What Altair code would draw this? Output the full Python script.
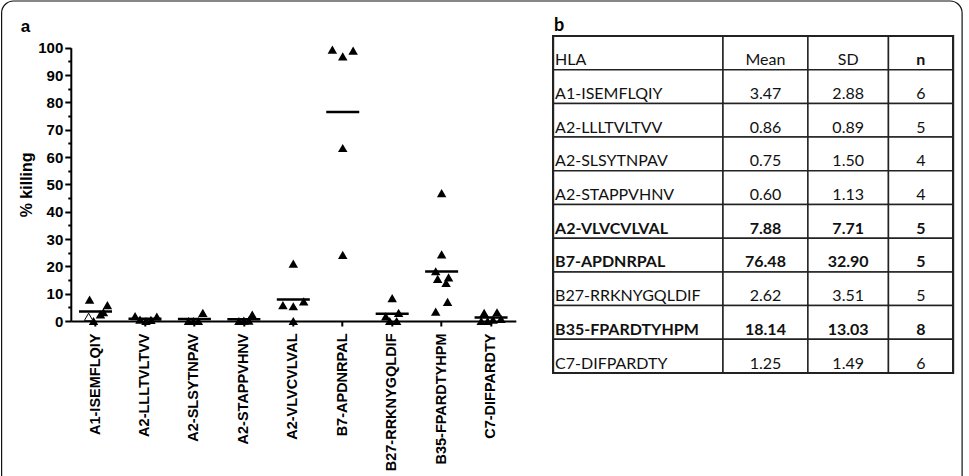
import altair as alt
import pandas as pd

# ---------------- data ----------------
categories = ["A1-ISEMFLQIY", "A2-LLLTVLTVV", "A2-SLSYTNPAV", "A2-STAPPVHNV",
              "A2-VLVCVLVAL", "B7-APDNRPAL", "B27-RRKNYGQLDIF", "B35-FPARDTYHPM",
              "C7-DIFPARDTY"]

# individual % killing values per peptide
vals_A1 = [7.8, 5.8, 3.2, 2.4, 1.5, 0.0]
vals_A2L = [1.8, 0.5, 0.0, 0.4, 1.6]
vals_A2S = [0.0, 0.0, 0.0, 3.0]
vals_A2T = [0.0, 0.1, 0.1, 2.3]
vals_A2V = [21.0, 5.8, 5.4, 7.2, 0.0]
vals_B7 = [99.3, 96.8, 98.9, 63.3, 24.2]
vals_B27 = [8.4, 3.0, 1.7, 0.0, 0.0]
vals_B35 = [46.8, 24.4, 18.2, 15.4, 16.0, 13.9, 7.0, 3.4]
vals_C7 = [3.0, 3.2, 0.0, 0.0, 0.5, 0.8]

# horizontal spread of the points within each column (fraction of column width)
spread_A1 = [-0.12, 0.24, 0.16, 0.10, -0.14, -0.04]
spread_A2L = [-0.20, -0.10, 0.02, 0.12, 0.24]
spread_A2S = [-0.12, -0.02, 0.08, 0.17]
spread_A2T = [-0.10, 0.00, 0.10, 0.17]
spread_A2V = [0.00, -0.21, 0.00, 0.21, 0.00]
spread_B7 = [-0.21, 0.00, 0.21, 0.00, 0.00]
spread_B27 = [0.00, 0.13, -0.13, -0.05, 0.09]
spread_B35 = [0.00, 0.00, -0.12, -0.08, 0.14, 0.09, 0.12, -0.12]
spread_C7 = [-0.14, 0.12, -0.20, -0.07, 0.04, 0.20]

# open (hollow) symbol flags
hollow_A1 = [False, False, False, False, True, False]

# y-axis tick values (labels every 10, minor ticks every 5)
y_ticks = [0, 5, 10, 15, 20, 25, 30, 35, 40, 45, 50, 55, 60, 65, 70, 75, 80, 85, 90, 95, 100]

# table values
table_mean = ["3.47", "0.86", "0.75", "0.60", "7.88", "76.48", "2.62", "18.14", "1.25"]
table_sd = ["2.88", "0.89", "1.50", "1.13", "7.71", "32.90", "3.51", "13.03", "1.49"]
table_n = ["6", "5", "4", "4", "5", "5", "5", "8", "6"]
table_bold = [False, False, False, False, True, True, False, True, False]
table_header = ["HLA", "Mean", "SD", "n"]
header_bold = [False, False, False, True]

# ---------------- frames ----------------
all_vals = [vals_A1, vals_A2L, vals_A2S, vals_A2T, vals_A2V, vals_B7, vals_B27, vals_B35, vals_C7]
all_spread = [spread_A1, spread_A2L, spread_A2S, spread_A2T, spread_A2V, spread_B7,
              spread_B27, spread_B35, spread_C7]
rows = []
for ci, (cat, vs, sp) in enumerate(zip(categories, all_vals, all_spread)):
    for i, (v, d) in enumerate(zip(vs, sp)):
        hollow = hollow_A1[i] if ci == 0 else False
        rows.append({"cat": cat, "val": v, "dx": d, "hollow": hollow})
pts = pd.DataFrame(rows)
means = pd.DataFrame({"cat": categories, "val": [float(m) for m in table_mean], "dx": 0.0})

AX_FONT = "Liberation Sans"

x_enc = alt.X("cat:N", sort=categories,
              scale=alt.Scale(domain=categories, paddingInner=0, paddingOuter=0),
              axis=alt.Axis(title=None, labelAngle=-90, labelFont=AX_FONT,
                            labelFontWeight="bold", labelFontSize=14.5, labelColor="black",
                            labelAlign="right", labelBaseline="middle",
                            tickSize=5, tickWidth=2, tickColor="black",
                            domainWidth=2, domainColor="black", labelPadding=7,
                            labelLimit=400, grid=False))
y_scale = alt.Scale(domain=[0, 100], range=[285, 11.7], nice=False, zero=True)
y_axis = alt.Axis(title="% killing", titleFont=AX_FONT, titleFontSize=16,
                  titleFontWeight="bold", titleColor="black", titlePadding=3,
                  values=y_ticks,
                  labelExpr="datum.value % 10 === 0 ? datum.label : ''",
                  labelOverlap=False,
                  labelFont=AX_FONT, labelFontSize=15, labelFontWeight="bold",
                  labelColor="black", labelPadding=2,
                  tickSize={"condition": {"test": "datum.value % 10 !== 0", "value": 3},
                            "value": 6},
                  tickWidth=2, tickColor="black", domainWidth=2, domainColor="black",
                  grid=False)
y_enc = alt.Y("val:Q", scale=y_scale, axis=y_axis)
xoff = alt.XOffset("dx:Q", scale=alt.Scale(domain=[-0.5, 0.5]))

base = alt.Chart(pts)
filled = base.transform_filter("!datum.hollow").mark_point(
    shape="triangle-up", filled=True, size=90, color="black", opacity=1
).encode(x=x_enc, xOffset=xoff, y=y_enc)
hollow = base.transform_filter("datum.hollow").mark_point(
    shape="triangle-up", filled=True, size=75, fill="white", stroke="black",
    strokeWidth=1, opacity=1
).encode(x=x_enc, xOffset=xoff, y=y_enc)
mean_lines = alt.Chart(means).mark_tick(
    orient="horizontal", size=33, thickness=2.5, color="black", opacity=1
).encode(x=x_enc, y=y_enc)

scatter = alt.layer(mean_lines, filled, hollow).properties(
    width=445, height=285,
    title=alt.TitleParams("a", anchor="start", font=AX_FONT, fontSize=17,
                          fontWeight="bold", color="black", offset=0, dx=2),
)

# ---------------- table ----------------
col_widths = [170, 85, 80.6, 64.7]
col_x0 = [sum(col_widths[:i]) for i in range(4)]
total_w = sum(col_widths)
cells = []
table_rows = [table_header] + [[c, m, s, n] for c, m, s, n in
                               zip(categories, table_mean, table_sd, table_n)]
for r, row in enumerate(table_rows):
    for c, txt in enumerate(row):
        bold = header_bold[c] if r == 0 else table_bold[r - 1]
        cells.append({
            "row": r, "row2": r + 1, "trow": r + 0.72,
            "x0": col_x0[c], "x1": col_x0[c] + col_widths[c],
            "xc": col_x0[c] + col_widths[c] / 2, "xl": col_x0[c] + 2,
            "txt": txt, "bold": bold, "left": c == 0,
        })
cells = pd.DataFrame(cells)
nrows = len(table_rows)

tx = alt.Scale(domain=[0, total_w], nice=False, zero=False)
ty = alt.Scale(domain=[nrows, 0], nice=False, zero=False)
tb = alt.Chart(cells)
cell_rects = tb.mark_rect(fill="white", stroke="#222", strokeWidth=1.5).encode(
    x=alt.X("x0:Q", scale=tx, axis=None), x2="x1:Q",
    y=alt.Y("row:Q", scale=ty, axis=None), y2="row2:Q",
)
outer = alt.Chart(pd.DataFrame({"a": [0], "b": [total_w], "c": [0], "d": [nrows]})).mark_rect(
    fill=None, stroke="#222", strokeWidth=2.2
).encode(
    x=alt.X("a:Q", scale=tx, axis=None), x2="b:Q",
    y=alt.Y("c:Q", scale=ty, axis=None), y2="d:Q",
)
TFONT = "Lato"
def txt_layer(filter_expr, xfield, align, weight):
    return tb.transform_filter(filter_expr).mark_text(
        align=align, baseline="middle", font=TFONT, fontSize=16,
        fontWeight=weight, color="#111"
    ).encode(
        x=alt.X(f"{xfield}:Q", scale=tx, axis=None),
        y=alt.Y("trow:Q", scale=ty, axis=None),
        text="txt:N",
    )

table = alt.layer(
    cell_rects, outer,
    txt_layer("datum.left && !datum.bold", "xl", "left", "normal"),
    txt_layer("datum.left && datum.bold", "xl", "left", "bold"),
    txt_layer("!datum.left && !datum.bold", "xc", "center", "normal"),
    txt_layer("!datum.left && datum.bold", "xc", "center", "bold"),
).properties(
    width=400, height=337,
    title=alt.TitleParams("b", anchor="start", font=TFONT, fontSize=18,
                          fontWeight="bold", color="black", offset=0, dx=2),
)

# decorative rounded border around the whole figure (figure frame, not data)
figure_frame = alt.Chart(pd.DataFrame({"k": [0]})).mark_rect(
    fill=None, stroke="#111", strokeWidth=1.2, cornerRadius=12
).encode(
    x=alt.value(-30.9), x2=alt.value(929.6),
    y=alt.value(-35), y2=alt.value(470),
).properties(width=1, height=1)

chart = alt.hconcat(figure_frame, scatter, table, spacing=37.3, bounds="flush").properties(
    padding={"left": 0.5, "top": 0, "right": 0, "bottom": 0},
    background="white",
).configure_view(stroke=None)

chart.save("out.html", embed_options={"renderer": "svg", "actions": False})
